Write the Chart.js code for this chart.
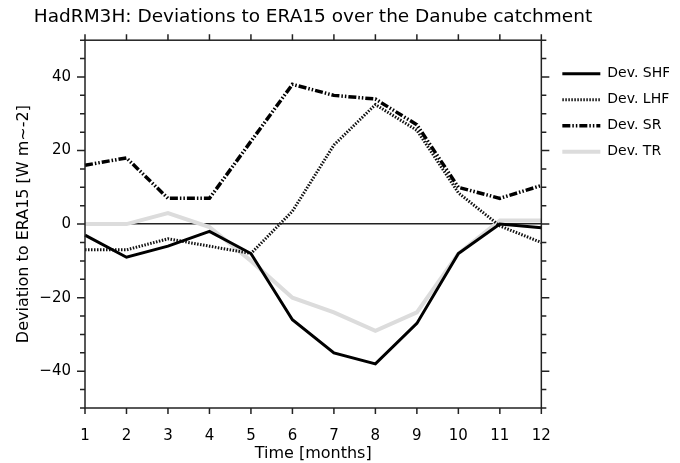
<!DOCTYPE html>
<html>
<head>
<meta charset="utf-8">
<script src="https://cdn.jsdelivr.net/npm/chart.js@4.4.1/dist/chart.umd.min.js"></script>
<style>
  html, body { margin: 0; padding: 0; background: #fff; }
  #wrap { width: 680px; height: 463px; }
</style>
</head>
<body>
<div id="wrap"><canvas id="chart"></canvas></div>
<script>
// data (W m-2, monthly)
const months = ['1', '2', '3', '4', '5', '6', '7', '8', '9', '10', '11', '12'];
const devSHF = [-3, -9, -6, -2, -8, -26, -35, -38, -27, -8, 0, -1];
const devLHF = [-7, -7, -4, -6, -8, 3.5, 21.5, 32.5, 25.5, 8.5, -0.5, -5];
const devSR = [16, 18, 7, 7, 22.5, 38, 35, 34, 27, 10, 7, 10.5];
const devTR = [0, 0, 3, -0.8, -10, -20, -24, -29, -24, -8, 1, 1];
const yTicks = [-40, -20, 0, 20, 40];

const FONT = 'DejaVu Sans';
Chart.defaults.font.family = FONT;
Chart.defaults.font.size = 14;
Chart.defaults.color = '#000';

// frame + outward ticks (major every 20, minor every 5)
const frameTicks = {
  id: 'frameTicks',
  afterDatasetsDraw(chart) {
    const { ctx, chartArea: a, scales } = chart;
    const x = scales.x, y = scales.y;
    ctx.save();
    ctx.strokeStyle = '#222';
    ctx.lineWidth = 1.5;
    ctx.strokeRect(a.left, a.top, a.right - a.left, a.bottom - a.top);
    ctx.beginPath();
    for (let v = -50; v <= 50; v += 5) {
      const py = y.getPixelForValue(v);
      const len = v % 20 === 0 ? 8 : 5;
      ctx.moveTo(a.left, py); ctx.lineTo(a.left - len, py);
      ctx.moveTo(a.right, py); ctx.lineTo(a.right + len, py);
    }
    for (let i = 0; i < months.length; i++) {
      const px = x.getPixelForValue(i);
      ctx.moveTo(px, a.bottom); ctx.lineTo(px, a.bottom + 6);
      ctx.moveTo(px, a.top); ctx.lineTo(px, a.top - 6);
    }
    ctx.stroke();
    ctx.restore();
  }
};

new Chart(document.getElementById('chart'), {
  type: 'line',
  data: {
    labels: months,
    datasets: [
      { label: 'Dev. SHF', data: devSHF, borderColor: '#000', borderWidth: 3 },
      { label: 'Dev. LHF', data: devLHF, borderColor: '#111', borderWidth: 3, borderDash: [1.5, 1.5] },
      { label: 'Dev. SR', data: devSR, borderColor: '#000', borderWidth: 3.5, borderDash: [8, 2, 1.5, 2, 1.5, 2] },
      { label: 'Dev. TR', data: devTR, borderColor: '#dcdcdc', borderWidth: 4 },
    ],
  },
  options: {
    responsive: true,
    maintainAspectRatio: false,
    animation: false,
    // negative left padding so the title centres over the plot, as in the original
    layout: { padding: { left: -43, right: 11, top: 0, bottom: 0 } },
    elements: { point: { radius: 0 }, line: { tension: 0 } },
    scales: {
      x: {
        offset: false,
        grid: { display: false, drawTicks: false },
        border: { display: false },
        ticks: { color: '#000', font: { size: 15 }, padding: 19, maxRotation: 0, autoSkip: false },
        title: { display: true, text: 'Time [months]', color: '#000', font: { size: 16 }, padding: { top: 1, bottom: 0 } },
        afterFit: (s) => { s.height = 55; },
      },
      y: {
        min: -50,
        max: 50,
        z: 1, // zero line over the data, like the original
        ticks: {
          stepSize: 10,
          color: '#000',
          font: { size: 15 },
          padding: 14,
          callback: (v) => yTicks.includes(v) ? String(v).replace('-', '\u2212') : '',
        },
        grid: {
          drawTicks: false,
          color: (c) => c.tick && c.tick.value === 0 ? '#222' : 'rgba(0,0,0,0)',
          lineWidth: 1.5,
        },
        border: { display: false },
        title: { display: true, text: 'Deviation to ERA15 [W m~-2]', color: '#000', font: { size: 16 }, padding: { top: 57, bottom: 14 } },
        afterFit: (s) => { s.width = 128; },
      },
      // spacer between the frame and the legend
      yR: {
        position: 'right',
        display: true,
        ticks: { display: false },
        grid: { display: false, drawTicks: false },
        border: { display: false },
        afterFit: (s) => { s.width = 9; },
      },
    },
    plugins: {
      title: {
        display: true,
        text: 'HadRM3H: Deviations to ERA15 over the Danube catchment',
        color: '#000',
        font: { size: 18.5, weight: 'normal' },
        padding: { top: 6, bottom: 12 },
      },
      legend: {
        position: 'right',
        align: 'start',
        title: { display: true, text: ' ', padding: 19, font: { size: 14 } },
        labels: {
          color: '#000',
          font: { size: 14 },
          usePointStyle: true,
          pointStyle: 'line',
          pointStyleWidth: 38,
          padding: 12,
          // keep the dash pattern and width of each line in the legend sample
          generateLabels: (chart) => {
            const items = Chart.defaults.plugins.legend.labels.generateLabels(chart);
            items.forEach((it) => {
              const ds = chart.data.datasets[it.datasetIndex];
              it.lineDash = ds.borderDash || [];
              it.lineWidth = ds.borderWidth;
              it.strokeStyle = ds.borderColor;
            });
            return items;
          },
        },
      },
      tooltip: { enabled: false },
    },
  },
  plugins: [frameTicks],
});
</script>
</body>
</html>
